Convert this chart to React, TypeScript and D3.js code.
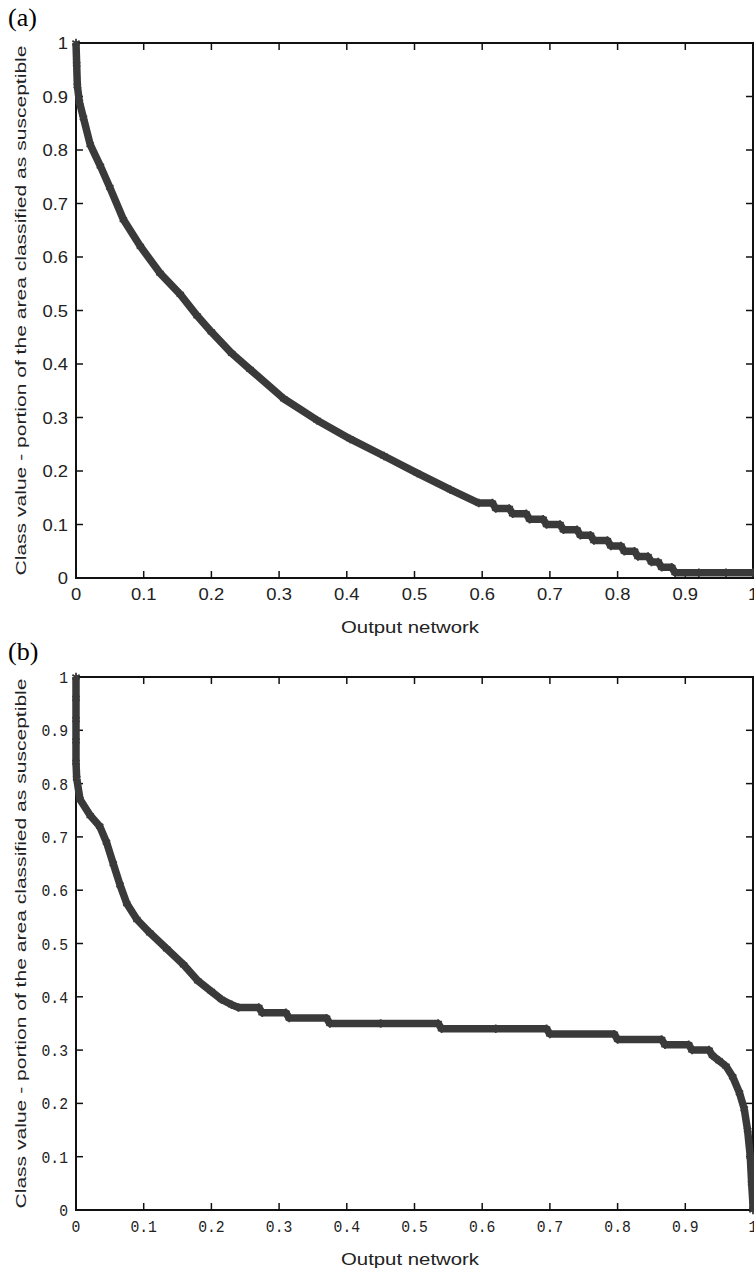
import React from "react";
import * as d3 from "d3";

// panel (a)
const curveA: [number, number][] = [
  [0, 1], [0.001, 0.96], [0.002, 0.92], [0.005, 0.89], [0.011, 0.86], [0.021, 0.81],
  [0.036, 0.77], [0.05, 0.73], [0.07, 0.67], [0.095, 0.62], [0.124, 0.57], [0.154, 0.53],
  [0.179, 0.49], [0.2, 0.46], [0.23, 0.42], [0.257, 0.39], [0.307, 0.335], [0.356, 0.295],
  [0.405, 0.26], [0.455, 0.228], [0.504, 0.196], [0.553, 0.165], [0.595, 0.14],
  [0.615, 0.14], [0.62, 0.13], [0.64, 0.13], [0.645, 0.12], [0.665, 0.12], [0.67, 0.11],
  [0.69, 0.11], [0.695, 0.1], [0.715, 0.1], [0.72, 0.09], [0.74, 0.09], [0.745, 0.08],
  [0.76, 0.08], [0.765, 0.07], [0.785, 0.07], [0.79, 0.06], [0.805, 0.06], [0.81, 0.05],
  [0.825, 0.05], [0.83, 0.04], [0.845, 0.04], [0.85, 0.03], [0.86, 0.03], [0.865, 0.02],
  [0.88, 0.02], [0.885, 0.01], [0.92, 0.01], [0.96, 0.01], [1, 0.01],
];

// panel (b)
const curveB: [number, number][] = [
  [0, 1], [0, 0.96], [0, 0.92], [0, 0.88], [0, 0.84], [0.001, 0.81], [0.006, 0.77],
  [0.021, 0.74], [0.035, 0.72], [0.045, 0.69], [0.055, 0.65], [0.065, 0.61], [0.075, 0.575],
  [0.09, 0.545], [0.109, 0.52], [0.134, 0.49], [0.159, 0.46], [0.18, 0.43], [0.2, 0.41],
  [0.215, 0.395], [0.23, 0.385], [0.24, 0.38], [0.27, 0.38], [0.275, 0.37], [0.31, 0.37],
  [0.315, 0.36], [0.37, 0.36], [0.375, 0.35], [0.45, 0.35], [0.535, 0.35], [0.54, 0.34],
  [0.62, 0.34], [0.695, 0.34], [0.7, 0.33], [0.795, 0.33], [0.8, 0.32], [0.865, 0.32],
  [0.87, 0.31], [0.905, 0.31], [0.91, 0.3], [0.935, 0.3], [0.94, 0.29], [0.95, 0.28],
  [0.96, 0.27], [0.97, 0.25], [0.98, 0.22], [0.987, 0.19], [0.992, 0.15], [0.996, 0.1],
  [0.998, 0.05], [1, 0.01], [1, 0],
];

const ticks = [0, 0.1, 0.2, 0.3, 0.4, 0.5, 0.6, 0.7, 0.8, 0.9, 1];
const tickLabels = ["0", "0.1", "0.2", "0.3", "0.4", "0.5", "0.6", "0.7", "0.8", "0.9", "1"];
const yLabel = "Class value - portion of the area classified as susceptible";
const xLabel = "Output network";

const ink = "#3a3a3a";

function Panel(props: { data: [number, number][]; top: number; bottom: number; tag: string; tickFont: string; stretch: number }) {
  const { data, top, bottom, tag, tickFont, stretch } = props;
  const left = 76, right = 753;
  const x = d3.scaleLinear().domain([0, 1]).range([left, right]);
  const y = d3.scaleLinear().domain([0, 1]).range([bottom, top]);
  const line = d3.line<[number, number]>().x((d) => x(d[0])).y((d) => y(d[1]));
  const sym = d3.symbol().type((d3 as any).symbolAsterisk || d3.symbolCross).size(50)();
  const tl = 7;
  return (
    <g>
      <text x={8} y={top - 17} fontFamily="'Liberation Serif', serif" fontSize={26}>{tag}</text>
      {/* box */}
      <path d={`M${left},${top}H${right}V${bottom}H${left}Z`} fill="none" stroke="#111" strokeWidth={2} />
      {ticks.map((t, i) => (
        <g key={i}>
          <line x1={x(t)} x2={x(t)} y1={bottom} y2={bottom - tl} stroke="#111" strokeWidth={1.5} />
          <line x1={x(t)} x2={x(t)} y1={top} y2={top + tl} stroke="#111" strokeWidth={1.5} />
          <line x1={left} x2={left + tl} y1={y(t)} y2={y(t)} stroke="#111" strokeWidth={1.5} />
          <line x1={right} x2={right - tl} y1={y(t)} y2={y(t)} stroke="#111" strokeWidth={1.5} />
          <text transform={`translate(${x(t)},${bottom + 22}) scale(${stretch},1)`} textAnchor="middle"
            fontFamily={tickFont} fontSize={16} fill="#222">{tickLabels[i]}</text>
          <text transform={`translate(${left - 8},${y(t) + 6}) scale(${stretch},1)`} textAnchor="end"
            fontFamily={tickFont} fontSize={16} fill="#222">{tickLabels[i]}</text>
        </g>
      ))}
      <path d={line(data) || ""} fill="none" stroke={ink} strokeWidth={7.5} strokeLinejoin="round" />
      {data.map((d, i) => (
        <path key={i} d={sym || ""} transform={`translate(${x(d[0])},${y(d[1])})`} fill="none" stroke={ink} strokeWidth={1.8} />
      ))}
      <text transform={`translate(26,${(top + bottom) / 2}) rotate(-90)`} textAnchor="middle"
        fontFamily="'Liberation Sans', Arial, sans-serif" fontSize={15.5} fill="#222"
        textLength={530} lengthAdjust="spacingAndGlyphs">{yLabel}</text>
      <text x={410} y={bottom + 55} textAnchor="middle" fontFamily="'Liberation Sans', Arial, sans-serif"
        fontSize={16} fill="#222" textLength={138} lengthAdjust="spacingAndGlyphs">{xLabel}</text>
    </g>
  );
}

export default function App() {
  return (
    <svg width={754} height={1278} style={{ position: "absolute", left: 0, top: 0, background: "#fff" }}>
      <Panel data={curveA} top={43} bottom={578} tag="(a)" tickFont="'Liberation Sans', Arial, sans-serif" stretch={1.15} />
      <Panel data={curveB} top={677} bottom={1210} tag="(b)" tickFont="'Liberation Mono', monospace" stretch={0.92} />
    </svg>
  );
}
